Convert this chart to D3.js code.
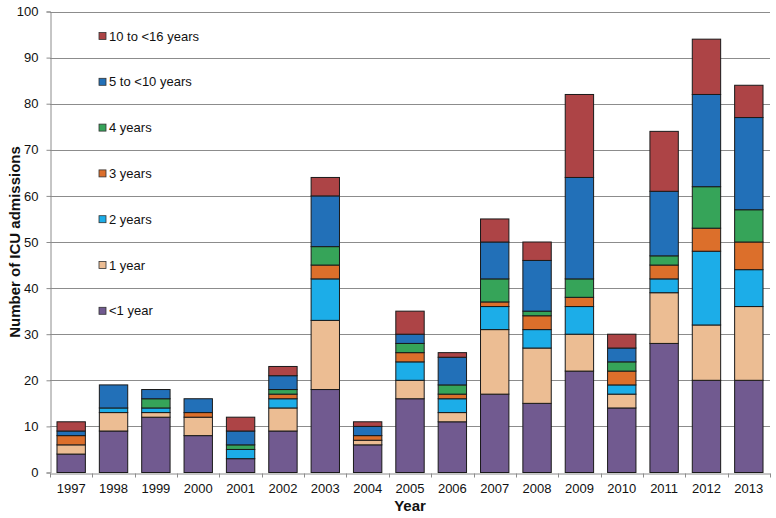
<!DOCTYPE html>
<html>
<head>
<meta charset="utf-8">
<script src="https://cdn.jsdelivr.net/npm/d3@7"></script>
<style>
  body { margin: 0; background: #fff; }
  text { font-family: "Liberation Sans", Arial, sans-serif; }
</style>
</head>
<body>
<svg id="chart" width="776" height="518"></svg>
<script>
const years = ["1997","1998","1999","2000","2001","2002","2003","2004","2005","2006","2007","2008","2009","2010","2011","2012","2013"];
const seriesNames = ["<1 year","1 year","2 years","3 years","4 years","5 to <10 years","10 to <16 years"];
const under1   = [4, 9,12, 8, 3, 9,18, 6,16,11,17,15,22,14,28,20,20];
const year1    = [2, 4, 1, 4, 0, 5,15, 1, 4, 2,14,12, 8, 3,11,12,16];
const year2    = [0, 1, 1, 0, 2, 2, 9, 0, 4, 3, 5, 4, 6, 2, 3,16, 8];
const year3    = [2, 0, 0, 1, 0, 1, 3, 1, 2, 1, 1, 3, 2, 3, 3, 5, 6];
const year4    = [0, 0, 2, 0, 1, 1, 4, 0, 2, 2, 5, 1, 4, 2, 2, 9, 7];
const y5to10   = [1, 5, 2, 3, 3, 3,11, 2, 2, 6, 8,11,22, 3,14,20,20];
const y10to16  = [2, 0, 0, 0, 3, 2, 4, 1, 5, 1, 5, 4,18, 3,13,12, 7];
const yTicks   = [0,10,20,30,40,50,60,70,80,90,100];
const colors   = ["#715a90","#ecbd93","#1cade8","#dc6f2b","#36a459","#2270b8","#ad4446"];

const seriesValues = [under1, year1, year2, year3, year4, y5to10, y10to16];
const keys = seriesNames;
const table = years.map((y, i) => {
  const row = { year: y };
  keys.forEach((k, j) => row[k] = seriesValues[j][i]);
  return row;
});

const svg = d3.select("#chart");
const margin = { left: 50, right: 6, top: 11.5, bottom: 45.5 };
const W = 776, H = 518;

const x = d3.scaleBand().domain(years).range([margin.left, W - margin.right]).paddingInner(0.33).paddingOuter(0.165);
const y = d3.scaleLinear().domain([0, 100]).range([H - margin.bottom, margin.top]);

// gridlines
svg.append("g").selectAll("line").data(yTicks.filter(d => d > 0)).join("line")
  .attr("x1", margin.left).attr("x2", W - margin.right)
  .attr("y1", d => Math.round(y(d)) + 0.5).attr("y2", d => Math.round(y(d)) + 0.5)
  .attr("stroke", "#8c8c8c").attr("stroke-width", 1);

// stacked bars
const stack = d3.stack().keys(keys)(table);
svg.append("g").selectAll("g").data(stack).join("g")
  .attr("fill", (d, i) => colors[i])
  .selectAll("rect").data(d => d.filter(s => s[1] - s[0] > 0)).join("rect")
  .attr("x", d => x(d.data.year))
  .attr("width", x.bandwidth())
  .attr("y", d => y(d[1]))
  .attr("height", d => y(d[0]) - y(d[1]))
  .attr("stroke", "#1a1a1a").attr("stroke-width", 1);

// y axis
const yAxis = d3.axisLeft(y).tickValues(yTicks).tickSize(4).tickPadding(8).tickFormat(d3.format("d"));
const gy = svg.append("g").attr("transform", `translate(${margin.left + 0.5},0)`).call(yAxis);
gy.select(".domain").attr("stroke", "#8c8c8c");
gy.selectAll(".tick line").attr("stroke", "#8c8c8c");
gy.selectAll(".tick text").attr("font-size", 13).attr("fill", "#111").style("font-family", "'Liberation Sans', Arial, sans-serif");

// x axis
const xAxis = d3.axisBottom(x).tickSize(0).tickPadding(10);
const gx = svg.append("g").attr("transform", `translate(0,${Math.round(y(0)) + 0.5})`).call(xAxis);
gx.select(".domain").attr("stroke", "#8c8c8c");
gx.selectAll(".tick text").attr("font-size", 13).attr("fill", "#111").style("font-family", "'Liberation Sans', Arial, sans-serif");
// category boundary ticks
const step = x.step();
const bounds = years.map((yr, i) => x(yr) - (step - x.bandwidth()) / 2).concat([W - margin.right]);
gx.append("g").selectAll("line").data(bounds).join("line")
  .attr("x1", d => Math.round(d) + 0.5).attr("x2", d => Math.round(d) + 0.5)
  .attr("y1", 0).attr("y2", 4).attr("stroke", "#8c8c8c");

// axis titles
svg.append("text").attr("x", (margin.left + W - margin.right) / 2).attr("y", 511)
  .attr("text-anchor", "middle").attr("font-size", 15).attr("font-weight", "bold").attr("fill", "#111").text("Year");
svg.append("text").attr("transform", `translate(20,${(margin.top + H - margin.bottom) / 2}) rotate(-90)`)
  .attr("text-anchor", "middle").attr("font-size", 15).attr("font-weight", "bold").attr("fill", "#111").text("Number of ICU admissions");

// legend (top to bottom: reverse order)
const legendKeys = keys.slice().reverse();
const leg = svg.append("g").selectAll("g").data(legendKeys).join("g")
  .attr("transform", (d, i) => `translate(99,${36 + i * 45.8})`);
leg.append("rect").attr("x", 0).attr("y", -3.5).attr("width", 7).attr("height", 7)
  .attr("fill", d => colors[keys.indexOf(d)]).attr("stroke", "#333").attr("stroke-width", 0.8);
leg.append("text").attr("x", 10).attr("y", 4.5).attr("font-size", 13).attr("fill", "#111").text(d => d);
</script>
</body>
</html>
